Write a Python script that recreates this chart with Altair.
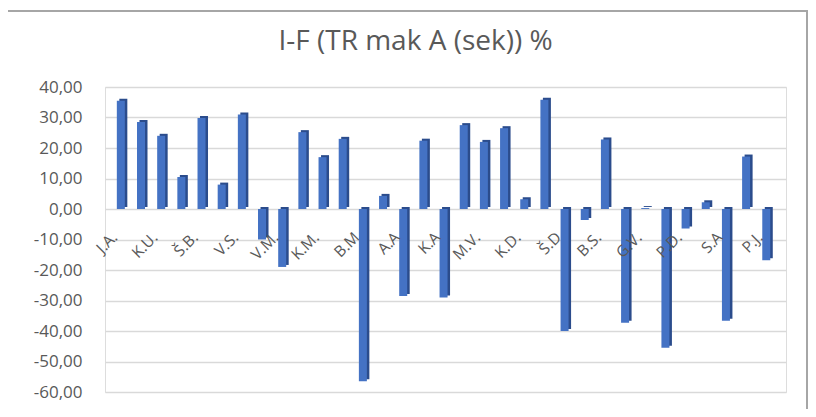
import altair as alt
import pandas as pd

# ---- data ----
shown_labels = ["J.A.", "K.U.", "Š.B.", "V.S.", "V.M.", "K.M.", "B.M", "A.A", "K.A",
                "M.V.", "K.D.", "Š.D", "B.S.", "G.V.", "P.D.", "S.A", "P.J."]
values = [35.5, 28.5, 24.0, 10.5, 29.8, 8.0, 31.0, -10.0, -19.0, 25.2, 17.0, 23.0,
          -56.5, 4.3, -28.5, 22.4, -29.0, 27.5, 22.0, 26.5, 3.2, 35.8, -40.0, -3.6,
          22.8, -37.3, 0.3, -45.5, -6.4, 2.2, -36.6, 17.2, -16.8]
y_ticks = [40, 30, 20, 10, 0, -10, -20, -30, -40, -50, -60]
title_text = "I-F (TR mak A (sek)) %"

bars = pd.DataFrame({"idx": list(range(1, len(values) + 1)), "value": values})
labs = pd.DataFrame({"idx": [2 * i + 1 for i in range(len(shown_labels))],
                     "label": shown_labels, "zero": 0})

W, H = 681, 305
FONT = "Open Sans"
GREY = "#595959"

xscale = alt.Scale(domain=[0.463, 33.73], nice=False, zero=False)
yscale = alt.Scale(domain=[-60, 40], nice=False)

y_axis = alt.Axis(
    values=y_ticks, tickCount=11, title=None, domain=False, ticks=False, grid=True,
    gridColor="#d9d9d9", gridWidth=1.5, labelColor=GREY, labelFont=FONT,
    labelFontSize=17, labelPadding=23, labelOverlap=False,
    labelExpr="(datum.value < 0 ? '-' : '') + replace(format(abs(datum.value), '.2f'), '.', ',')",
)

base = alt.Chart(bars)

side = base.mark_bar(width=8, color="#2b4c8c", xOffset=2.5, yOffset=-2).encode(
    x=alt.X("idx:Q", scale=xscale, axis=None),
    y=alt.Y("value:Q", scale=yscale, axis=y_axis),
)
front = base.mark_bar(width=8, color="#4472c4").encode(
    x=alt.X("idx:Q", scale=xscale, axis=None),
    y=alt.Y("value:Q", scale=yscale, axis=y_axis),
)
text = alt.Chart(labs).mark_text(
    angle=315, align="right", baseline="middle", font=FONT, fontSize=15.5,
    color=GREY, xOffset=-6, yOffset=26,
).encode(
    x=alt.X("idx:Q", scale=xscale, axis=None),
    y=alt.Y("zero:Q", scale=yscale, axis=y_axis),
    text="label:N",
)
frame = alt.Chart(bars).mark_rect(fill=None, stroke="#a6a6a6", strokeWidth=1.5).encode(
    x=alt.value(-98), x2=alt.value(702), y=alt.value(-76), y2=alt.value(340)
)

chart = alt.layer(frame, side, front, text).properties(
    width=W, height=H,
    title=alt.TitleParams(title_text, font=FONT, fontSize=28, fontWeight="normal",
                          color=GREY, anchor="middle", offset=-46, dx=-30),
    padding={"left": 97, "top": 79, "right": 22, "bottom": 17},
    autosize=alt.AutoSizeParams(type="none"),
).configure_view(stroke=None).configure(background="white")

chart.save("out.html", embed_options={"renderer": "svg", "actions": False})
